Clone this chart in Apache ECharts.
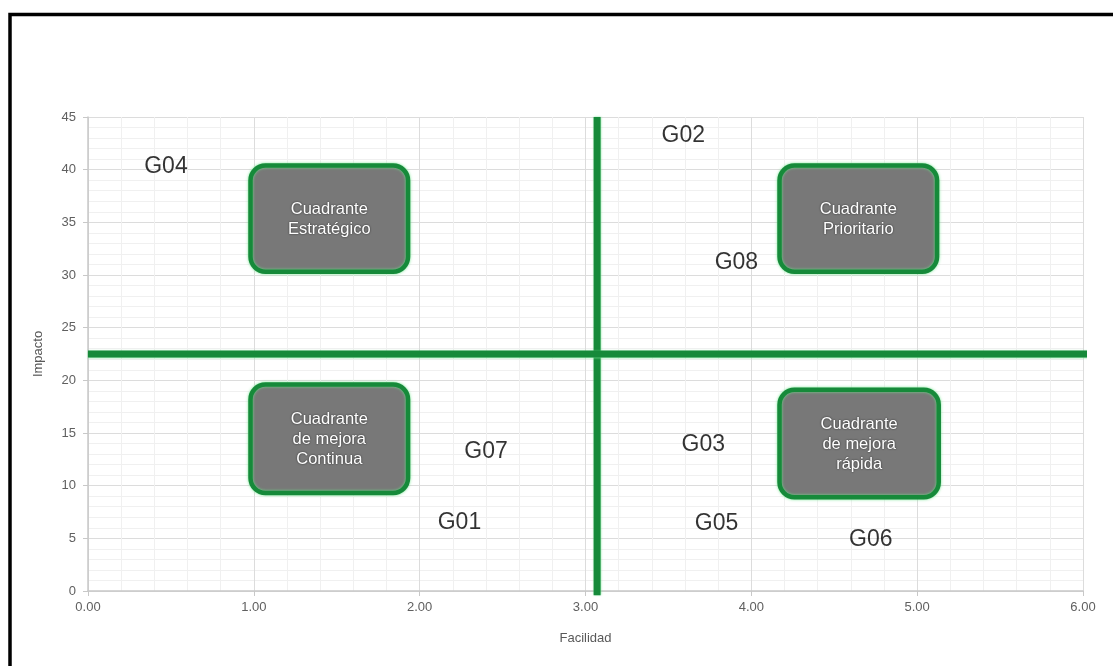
<!DOCTYPE html>
<html>
<head>
<meta charset="utf-8">
<style>
  html, body { margin: 0; padding: 0; background: #fff; }
  #chart { width: 1113px; height: 666px; }
</style>
<script src="https://cdn.jsdelivr.net/npm/echarts@6/dist/echarts.min.js"></script>
</head>
<body>
<div id="chart"></div>
<script>
// Group positions: [facilidad, impacto]
const groupNames = ['G04', 'G02', 'G08', 'G07', 'G03', 'G01', 'G05', 'G06'];
const groupFacilidad = [0.47, 3.59, 3.91, 2.40, 3.71, 2.24, 3.79, 4.72];
const groupImpacto = [40.3, 43.2, 31.2, 13.2, 13.9, 6.5, 6.4, 4.9];

// Quadrant dividers
const dividerX = 3.07;
const dividerY = 22.5;

// Quadrant label boxes: [x0, x1, y0, y1]
const quadrantLabels = ['Cuadrante\nEstratégico', 'Cuadrante\nPrioritario', 'Cuadrante\nde mejora\nContinua', 'Cuadrante\nde mejora\nrápida'];
const quadrantBoxes = [
  [0.98, 1.93, 30.3, 40.4],
  [4.17, 5.12, 30.3, 40.4],
  [0.98, 1.93, 9.3, 19.6],
  [4.17, 5.13, 8.9, 19.1]
];

// Axis ranges and ticks
const xMin = 0, xMax = 6, xStep = 1;
const yMin = 0, yMax = 45, yStep = 5;

const green = '#168a3a';
const dividerStyle = { color: green, width: 7, type: 'solid', cap: 'butt',
  shadowColor: 'rgba(120,230,150,0.9)', shadowBlur: 2 };

const chart = echarts.init(document.getElementById('chart'));

chart.setOption({
  backgroundColor: '#ffffff',
  animation: false,
  grid: { left: 88, right: 30, top: 117, bottom: 75 },
  graphic: [{
    type: 'rect',
    shape: { x: 10, y: 14.5, width: 1200, height: 700 },
    style: { fill: 'none', stroke: '#000', lineWidth: 3.5 },
    z: 100
  }],
  xAxis: {
    type: 'value', min: xMin, max: xMax, interval: xStep,
    name: 'Facilidad', nameLocation: 'middle', nameGap: 41,
    nameTextStyle: { color: '#595959', fontSize: 13, fontFamily: 'Liberation Sans' },
    axisLine: { show: true, lineStyle: { color: '#c8c8c8', width: 1.5 } },
    axisTick: { show: true, length: 5, lineStyle: { color: '#c8c8c8' } },
    axisLabel: { color: '#606060', fontSize: 13, fontFamily: 'Liberation Sans', margin: 10,
      formatter: v => v.toFixed(2) },
    splitLine: { show: true, lineStyle: { color: '#dcdcdc', width: 1 } },
    minorTick: { show: false, splitNumber: 5 },
    minorSplitLine: { show: true, lineStyle: { color: '#f0f0f0', width: 1 } }
  },
  yAxis: {
    type: 'value', min: yMin, max: yMax, interval: yStep,
    name: 'Impacto', nameLocation: 'middle', nameGap: 43,
    nameTextStyle: { color: '#595959', fontSize: 13, fontFamily: 'Liberation Sans' },
    axisLine: { show: true, lineStyle: { color: '#c8c8c8', width: 1.5 } },
    axisTick: { show: true, length: 5, lineStyle: { color: '#c8c8c8' } },
    axisLabel: { color: '#606060', fontSize: 13, fontFamily: 'Liberation Sans', margin: 12 },
    splitLine: { show: true, lineStyle: { color: '#dcdcdc', width: 1 } },
    minorTick: { show: false, splitNumber: 5 },
    minorSplitLine: { show: true, lineStyle: { color: '#f0f0f0', width: 1 } }
  },
  series: [
    {
      // vertical divider
      type: 'line',
      clip: false,
      silent: true,
      symbol: 'none',
      data: [[dividerX, yMin - 0.4], [dividerX, yMax]],
      lineStyle: dividerStyle,
      z: 3
    },
    {
      // horizontal divider
      type: 'line',
      clip: false,
      silent: true,
      symbol: 'none',
      data: [[xMin, dividerY], [xMax + 0.03, dividerY]],
      lineStyle: dividerStyle,
      z: 3
    },
    {
      // quadrant label boxes
      type: 'custom',
      data: quadrantBoxes.map((b, i) => [b[0], b[1], b[2], b[3], i]),
      renderItem: (params, api) => {
        const p0 = api.coord([api.value(0), api.value(3)]);
        const p1 = api.coord([api.value(1), api.value(2)]);
        const w = p1[0] - p0[0], h = p1[1] - p0[1];
        return {
          type: 'group',
          children: [
            {
              type: 'rect',
              shape: { x: p0[0], y: p0[1], width: w, height: h, r: 15 },
              style: { fill: '#787878', stroke: green, lineWidth: 4.5,
                shadowColor: 'rgba(110,230,140,0.9)', shadowBlur: 3 }
            },
            {
              type: 'text',
              x: p0[0] + w / 2,
              y: p0[1] + h / 2 + 1,
              style: {
                text: quadrantLabels[api.value(4)],
                fill: '#ffffff',
                fontSize: 16.5,
                fontFamily: 'Liberation Sans',
                lineHeight: 20,
                align: 'center',
                verticalAlign: 'middle',
                textShadowColor: 'rgba(0,0,0,0.7)',
                textShadowBlur: 2
              }
            }
          ]
        };
      },
      z: 5
    },
    {
      // group labels
      type: 'scatter',
      symbolSize: 0,
      data: groupNames.map((n, i) => ({ name: n, value: [groupFacilidad[i], groupImpacto[i]] })),
      label: {
        show: true, position: 'inside', formatter: '{b}',
        color: '#000', fontSize: 23, fontFamily: 'Liberation Sans',
        textBorderWidth: 0
      },
      z: 6
    }
  ]
});
</script>
</body>
</html>
